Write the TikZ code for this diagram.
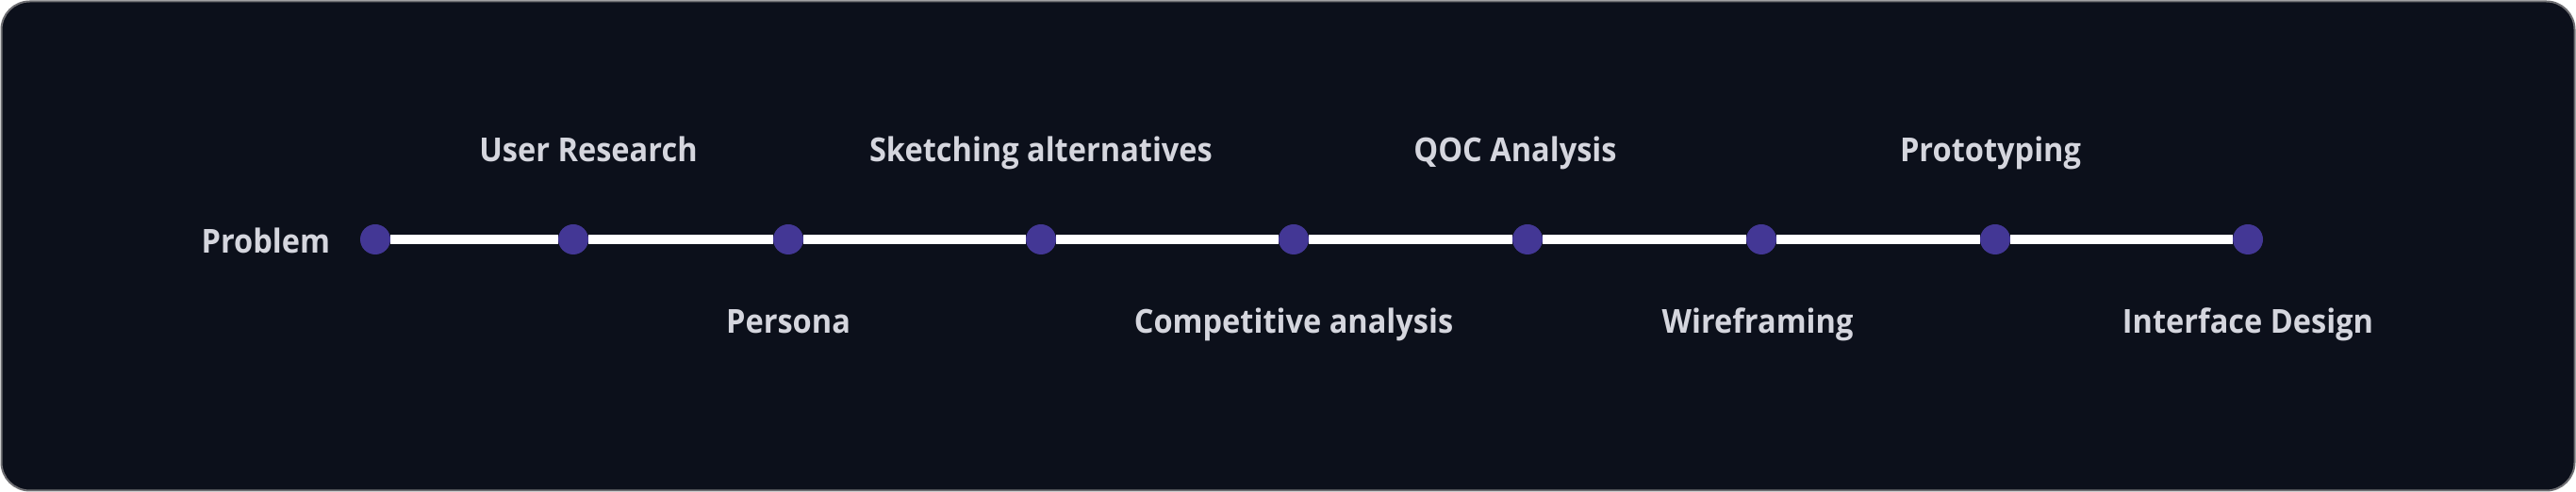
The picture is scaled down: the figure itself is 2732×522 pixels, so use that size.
\documentclass[tikz,border=0pt]{standalone}
\usepackage{fontspec}
\setmainfont{Open Sans}
\newfontfamily\lblfont{Open Sans Bold}[FakeStretch=0.93]
\usepackage{tikz}

\definecolor{panelbg}{RGB}{12,16,27}
\definecolor{panelline}{RGB}{110,110,114}
\definecolor{dotfill}{RGB}{67,55,149}
\definecolor{lbltext}{RGB}{213,214,222}

\tikzset{
  dot/.style={circle, fill=dotfill, inner sep=0pt, minimum size=16pt},
  track/.style={draw=white, line width=5pt},
  lbl/.style={text=lbltext, inner sep=0.75pt, font=\lblfont\fontsize{17.5}{21}\selectfont},
}

\begin{document}
\begin{tikzpicture}[x=0.5pt,y=0.5pt,yscale=-1,xscale=1]
\useasboundingbox (0,0) rectangle (2732,522);
\draw [draw=panelline, fill=panelbg, line width=1pt, rounded corners=15pt] (1.5,1.5) rectangle (2730.5,520.5);
% timeline dots
\node [dot] (prob) at (398,254) {};
\node [dot] (ures) at (608,254) {};
\node [dot] (pers) at (836,254) {};
\node [dot] (sketch) at (1104,254) {};
\node [dot] (comp) at (1372,254) {};
\node [dot] (qoc) at (1620,254) {};
\node [dot] (wire) at (1868,254) {};
\node [dot] (proto) at (2116,254) {};
\node [dot] (intf) at (2384,254) {};
\draw [track] (prob) -- (ures) -- (pers) -- (sketch) -- (comp) -- (qoc) -- (wire) -- (proto) -- (intf);
% labels
\node [lbl, anchor=base east] (tprob) at (352,269) {Problem};
\node [lbl, anchor=base] (tures) at (624,172) {User Research};
\node [lbl, anchor=base] (tpers) at (836,354) {Persona};
\node [lbl, anchor=base] (tsketch) at (1104,172) {Sketching alternatives};
\node [lbl, anchor=base] (tcomp) at (1372,354) {Competitive analysis};
\node [lbl, anchor=base] (tqoc) at (1607,172) {QOC Analysis};
\node [lbl, anchor=base] (twire) at (1864,354) {Wireframing};
\node [lbl, anchor=base] (tproto) at (2111,172) {Prototyping};
\node [lbl, anchor=base] (tintf) at (2384,354) {Interface Design};
\end{tikzpicture}
\end{document}
